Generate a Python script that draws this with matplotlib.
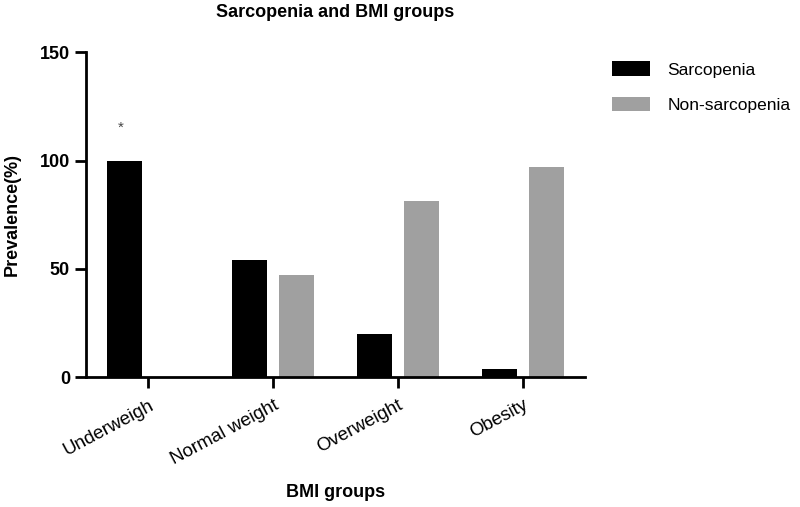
import numpy as np
import matplotlib.pyplot as plt

plt.rcParams['font.family'] = ['Liberation Sans', 'DejaVu Sans']

groups = ['Underweigh', 'Normal weight', 'Overweight', 'Obesity']
sarcopenia = [100, 54, 20, 4]
non_sarcopenia = [0, 47, 81.5, 97]

fig = plt.figure(figsize=(8, 5.07), dpi=100)
ax = fig.add_axes([0.1075, 0.256, 0.624, 0.641])

x = np.arange(len(groups))
w = 0.28
off = 0.19
ax.bar(x - off, sarcopenia, w, color='black', label='Sarcopenia')
ax.bar(x + off, non_sarcopenia, w, color='#a0a0a0', label='Non-sarcopenia')

ax.text(x[0] - off - 0.03, 115, '*', ha='center', va='center', fontsize=11, color='#444444')

ax.set_xlim(-0.5, 3.5)
ax.set_ylim(0, 150)
ax.set_yticks([0, 50, 100, 150])
ax.set_xticks(x)
ax.set_xticklabels(groups, rotation=28, ha='right', rotation_mode='anchor', fontsize=13.5)
for lab in ax.get_yticklabels():
    lab.set_fontweight('bold')
    lab.set_fontsize(13)

for s in ['top', 'right']:
    ax.spines[s].set_visible(False)
for s in ['left', 'bottom']:
    ax.spines[s].set_linewidth(2)
ax.tick_params(width=2, length=8, direction='out')
ax.tick_params(axis='x', pad=6)

fig.text(0.419, 0.975, 'Sarcopenia and BMI groups', fontweight='bold', fontsize=13,
         ha='center', va='center')
fig.text(0.419, 0.028, 'BMI groups', fontweight='bold', fontsize=13, ha='center', va='center')
ax.set_ylabel('Prevalence(%)', fontweight='bold', fontsize=13, labelpad=14)

ax.legend(loc='upper left', bbox_to_anchor=(1.022, 1.02), frameon=False, fontsize=12.5,
          handlelength=2.2, handleheight=0.9, labelspacing=1.1, handletextpad=1.0)

fig.savefig('out.png', dpi=100)
